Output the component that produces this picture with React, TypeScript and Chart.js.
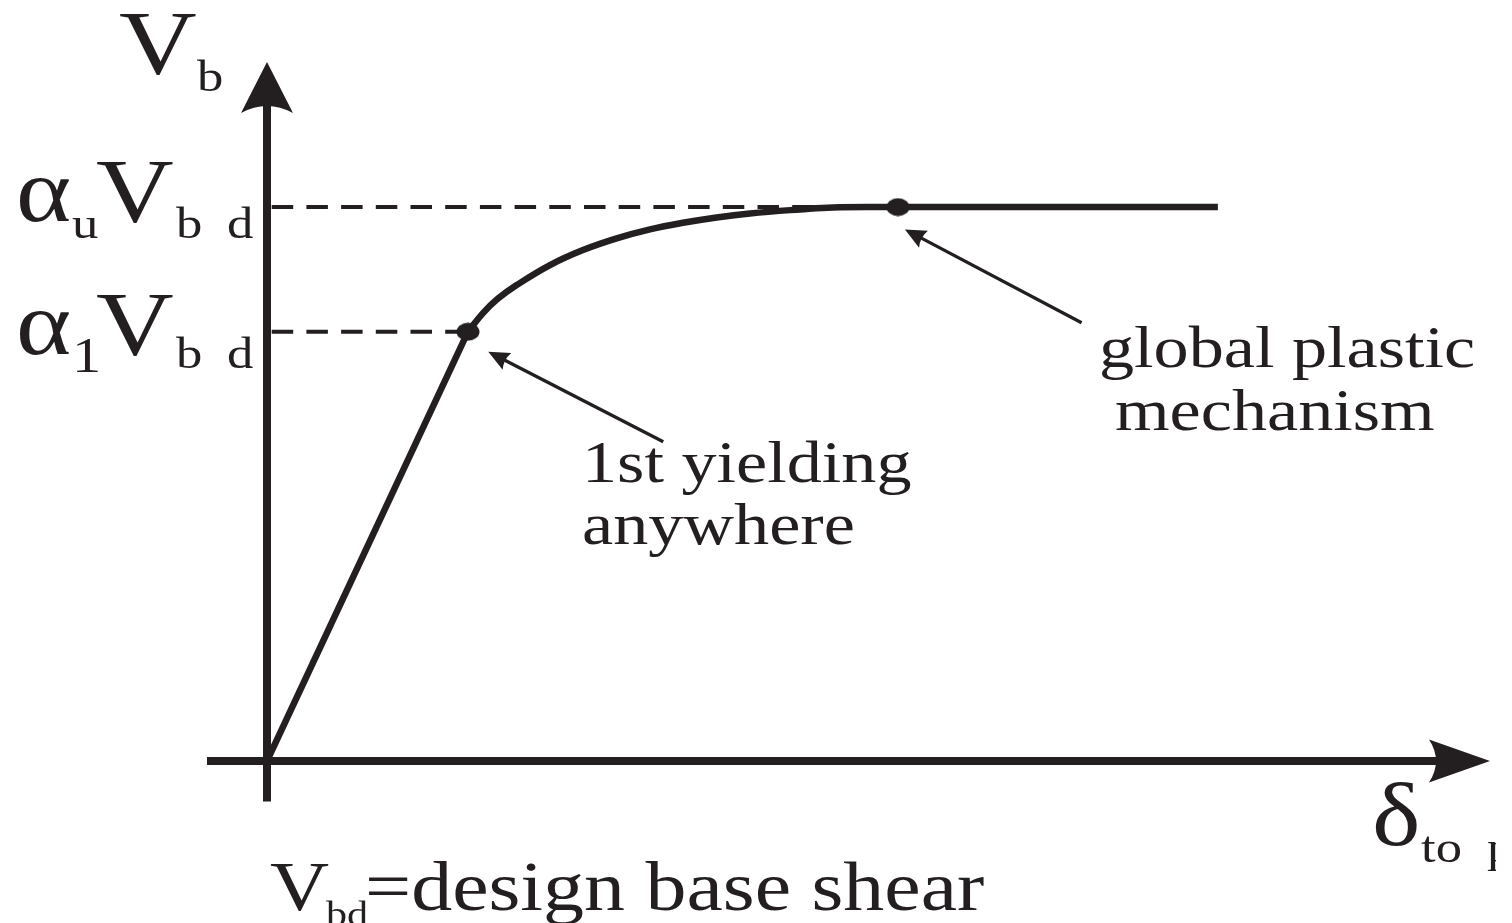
import React, { useEffect, useRef } from "react";
import { Chart, registerables } from "chart.js";

Chart.register(...registerables);

// ---------- data (δ normalised by first-yield δ, Vb normalised by αu·Vbd) ----------
const ELASTIC_DISP = [0, 1.0];
const ELASTIC_SHEAR = [0, 0.775];

const HARDENING_DISP = [1.0, 1.0746, 1.1493, 1.2423, 1.408, 1.5721, 1.7398, 1.9055, 2.0697, 2.2373, 2.403, 2.6517, 2.8159, 3.1393, 4.731];
const HARDENING_SHEAR = [0.775, 0.8087, 0.8348, 0.8592, 0.8953, 0.9224, 0.9435, 0.9597, 0.9717, 0.9814, 0.9886, 0.9958, 0.9995, 1.0, 1.0];

const KEY_POINT_DISP = [1.0, 3.1393];
const KEY_POINT_SHEAR = [0.775, 1.0];

const ALPHA_1 = 0.775;
const ALPHA_U = 1.0;
const DISP_YIELD = 1.0;
const DISP_MECHANISM = 3.1393;

// axis extents
const X_MAX = 6.085;
const Y_MAX = 1.262;
const X_AXIS_FROM = -0.2985;
const Y_AXIS_FROM = -0.073;

// annotation arrows [tail, tip]
const YIELD_ARROW_X = [1.9716, 1.101];
const YIELD_ARROW_Y = [0.5764, 0.7388];
const MECH_ARROW_X = [4.053, 3.174];
const MECH_ARROW_Y = [0.7912, 0.9597];

// text
const YIELD_NOTE = ["1st yielding", "anywhere"];
const MECH_NOTE = ["global plastic", "mechanism"];
const FOOTNOTE = "=design base shear";

// ---------- styles ----------
const INK = "#231f20";
const FONT = '"Liberation Serif", "Times New Roman", serif';
const H_STRETCH = 1.17;

function text(ctx: CanvasRenderingContext2D, s: string, x: number, y: number, size: number) {
  ctx.save();
  ctx.translate(x, y);
  ctx.scale(H_STRETCH, 1);
  ctx.font = `${size}px ${FONT}`;
  ctx.textAlign = "left";
  ctx.textBaseline = "alphabetic";
  ctx.fillStyle = INK;
  ctx.fillText(s, 0, 0);
  ctx.restore();
}

function arrowHead(
  ctx: CanvasRenderingContext2D,
  tx: number, ty: number,
  dx: number, dy: number,
  len: number, half: number, notch: number
) {
  const bx = tx + dx * len, by = ty + dy * len;
  const nx = -dy, ny = dx;
  const c1x = bx + nx * half, c1y = by + ny * half;
  const c2x = bx - nx * half, c2y = by - ny * half;
  const qx = tx + dx * (len - 2 * notch), qy = ty + dy * (len - 2 * notch);
  ctx.beginPath();
  ctx.moveTo(tx, ty);
  ctx.lineTo(c1x, c1y);
  ctx.quadraticCurveTo(qx, qy, c2x, c2y);
  ctx.closePath();
  ctx.fill();
}

function annotationArrow(ctx: CanvasRenderingContext2D, x0: number, y0: number, x1: number, y1: number) {
  const L = Math.hypot(x0 - x1, y0 - y1);
  const dx = (x0 - x1) / L, dy = (y0 - y1) / L;
  const headLen = 21;
  ctx.save();
  ctx.strokeStyle = INK;
  ctx.fillStyle = INK;
  ctx.lineWidth = 3.3;
  ctx.beginPath();
  ctx.moveTo(x0, y0);
  ctx.lineTo(x1 + dx * (headLen - 4), y1 + dy * (headLen - 4));
  ctx.stroke();
  arrowHead(ctx, x1, y1, dx, dy, headLen, 9.5, 2);
  ctx.restore();
}

function makeDot(): HTMLCanvasElement {
  const c = document.createElement("canvas");
  c.width = 24;
  c.height = 19;
  const g = c.getContext("2d")!;
  g.fillStyle = INK;
  g.beginPath();
  g.ellipse(12, 9.5, 11.5, 9, 0, 0, Math.PI * 2);
  g.fill();
  return c;
}

const diagramPlugin = {
  id: "diagram",
  beforeDatasetsDraw(chart: any) {
    const { ctx } = chart;
    const x = chart.scales.x, y = chart.scales.y;
    const ox = x.getPixelForValue(0), oy = y.getPixelForValue(0);
    const xs = x.getPixelForValue(X_AXIS_FROM), xe = x.getPixelForValue(X_MAX);
    const ys = y.getPixelForValue(Y_AXIS_FROM), ye = y.getPixelForValue(Y_MAX);
    ctx.save();
    ctx.strokeStyle = INK;
    ctx.fillStyle = INK;
    ctx.lineWidth = 8;
    ctx.lineCap = "butt";
    ctx.beginPath();
    ctx.moveTo(xs, oy);
    ctx.lineTo(xe - 50, oy);
    ctx.stroke();
    arrowHead(ctx, xe, oy, -1, 0, 61, 21.5, 7);
    ctx.beginPath();
    ctx.moveTo(ox, ys);
    ctx.lineTo(ox, ye + 42);
    ctx.stroke();
    arrowHead(ctx, ox, ye, 0, 1, 51, 26, 7);
    ctx.restore();
  },
  afterDatasetsDraw(chart: any) {
    const { ctx } = chart;
    const x = chart.scales.x, y = chart.scales.y;
    const ox = x.getPixelForValue(0);
    const oy = y.getPixelForValue(0);
    const ye = y.getPixelForValue(Y_MAX);
    const xe = x.getPixelForValue(X_MAX);

    // annotation arrows
    annotationArrow(ctx,
      x.getPixelForValue(YIELD_ARROW_X[0]), y.getPixelForValue(YIELD_ARROW_Y[0]),
      x.getPixelForValue(YIELD_ARROW_X[1]), y.getPixelForValue(YIELD_ARROW_Y[1]));
    annotationArrow(ctx,
      x.getPixelForValue(MECH_ARROW_X[0]), y.getPixelForValue(MECH_ARROW_Y[0]),
      x.getPixelForValue(MECH_ARROW_X[1]), y.getPixelForValue(MECH_ARROW_Y[1]));

    // y axis title  V_b
    text(ctx, "V", ox - 148, ye + 12, 92);
    text(ctx, "b", ox - 70, ye + 29, 45);

    // αu Vbd level label
    const yu = y.getPixelForValue(ALPHA_U);
    text(ctx, "α", ox - 251, yu + 14, 90);
    text(ctx, "u", ox - 195, yu + 31, 45);
    text(ctx, "V", ox - 171, yu + 15, 92);
    text(ctx, "b", ox - 91, yu + 31, 45);
    text(ctx, "d", ox - 40, yu + 31, 45);

    // α1 Vbd level label
    const y1 = y.getPixelForValue(ALPHA_1);
    text(ctx, "α", ox - 251, y1 + 22, 90);
    text(ctx, "1", ox - 195, y1 + 40, 50);
    text(ctx, "V", ox - 171, y1 + 23, 92);
    text(ctx, "b", ox - 91, y1 + 36, 45);
    text(ctx, "d", ox - 40, y1 + 36, 45);

    // x axis title δ_top
    text(ctx, "δ", xe - 118, oy + 84, 88);
    text(ctx, "to", xe - 69, oy + 101, 45);
    ctx.save();
    ctx.beginPath();
    ctx.rect(0, 0, xe + 6, chart.height);
    ctx.clip();
    text(ctx, "p", xe - 3, oy + 101, 45);
    ctx.restore();

    // notes
    const yx = x.getPixelForValue(DISP_YIELD);
    text(ctx, YIELD_NOTE[0], yx + 114, 482, 60);
    text(ctx, YIELD_NOTE[1], yx + 114, 544, 60);
    const mx = x.getPixelForValue(DISP_MECHANISM);
    text(ctx, MECH_NOTE[0], mx + 201, 366.7, 60);
    text(ctx, MECH_NOTE[1], mx + 217, 430, 60);

    // footnote
    text(ctx, "V", ox + 3, oy + 149, 70);
    text(ctx, "bd", ox + 59, oy + 165, 36);
    text(ctx, FOOTNOTE, ox + 98, oy + 149, 70);
  },
};

export default function App() {
  const ref = useRef<HTMLCanvasElement | null>(null);

  useEffect(() => {
    if (!ref.current) return;
    const dot = makeDot();
    const pts = (xs: number[], ys: number[]) => xs.map((v, i) => ({ x: v, y: ys[i] }));
    const chart = new Chart(ref.current, {
      type: "scatter",
      data: {
        datasets: [
          {
            label: "key points",
            data: pts(KEY_POINT_DISP, KEY_POINT_SHEAR),
            showLine: false,
            pointStyle: dot as any,
            pointRadius: 10,
            order: 0,
          },
          {
            label: "elastic",
            data: pts(ELASTIC_DISP, ELASTIC_SHEAR),
            showLine: true,
            borderColor: INK,
            borderWidth: 6.5,
            pointRadius: 0,
            tension: 0,
            order: 1,
          },
          {
            label: "hardening",
            data: pts(HARDENING_DISP, HARDENING_SHEAR),
            showLine: true,
            borderColor: INK,
            borderWidth: 6.5,
            pointRadius: 0,
            tension: 0.4,
            order: 1,
          },
          {
            label: "αu Vbd",
            data: [{ x: 0, y: ALPHA_U }, { x: DISP_MECHANISM, y: ALPHA_U }],
            showLine: true,
            borderColor: INK,
            borderWidth: 4,
            borderDash: [21.5, 13.2],
            borderDashOffset: 30,
            pointRadius: 0,
            order: 2,
          },
          {
            label: "α1 Vbd",
            data: [{ x: 0, y: ALPHA_1 }, { x: DISP_YIELD, y: ALPHA_1 }],
            showLine: true,
            borderColor: INK,
            borderWidth: 4,
            borderDash: [21.5, 13.2],
            borderDashOffset: 30,
            pointRadius: 0,
            order: 2,
          },
        ],
      },
      options: {
        animation: false,
        responsive: false,
        devicePixelRatio: 1,
        events: [],
        layout: { padding: { left: 267, right: 22, top: 62, bottom: 162 } },
        plugins: { legend: { display: false }, tooltip: { enabled: false }, title: { display: false } },
        scales: {
          x: { type: "linear", min: 0, max: X_MAX, display: false },
          y: { type: "linear", min: 0, max: Y_MAX, display: false },
        },
      },
      plugins: [diagramPlugin],
    });
    return () => chart.destroy();
  }, []);

  return (
    <div style={{ position: "fixed", left: 0, top: 0, width: 1512, height: 923, background: "#fff" }}>
      <canvas ref={ref} width={1512} height={923} style={{ display: "block" }} />
    </div>
  );
}
